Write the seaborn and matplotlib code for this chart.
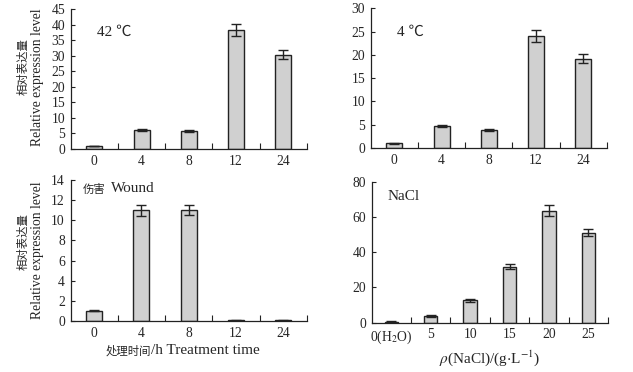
import matplotlib
matplotlib.use("Agg")
import matplotlib.pyplot as plt
import seaborn as sns
import pandas as pd
import numpy as np
from matplotlib.ticker import FixedLocator, MultipleLocator

# ---- data ----
time_cats = ["0", "4", "8", "12", "24"]
heat_vals = [1.0, 6.0, 5.8, 38.3, 30.4]
heat_err = [0.1, 0.3, 0.4, 1.9, 1.5]
cold_vals = [1.0, 4.8, 3.8, 24.0, 19.2]
cold_err = [0.1, 0.2, 0.2, 1.3, 1.0]
wound_vals = [1.0, 11.0, 11.0, 0.05, 0.05]
wound_err = [0.05, 0.55, 0.5, 0.02, 0.02]
nacl_cats = ["0(H$_2$O)", "5", "10", "15", "20", "25"]
nacl_vals = [0.5, 4.0, 12.8, 31.8, 63.5, 51.0]
nacl_err = [0.4, 0.6, 0.8, 1.5, 3.2, 2.0]

sns.set_theme(style="white")
plt.rcParams["font.family"] = ["Liberation Serif", "Noto Sans CJK SC"]
plt.rcParams["mathtext.fontset"] = "stix"
plt.rcParams["font.size"] = 10

W, H = 633, 372
TICK = 9.8
ENG = 11
ENGV = 9.8
CJK = 8.2
fig = plt.figure(figsize=(W / 100, H / 100), dpi=100)


def mkax(l, r, b, t):
    return fig.add_axes([l / W, 1 - b / H, (r - l) / W, (b - t) / H])


def ftext(x, y, s, **kw):
    fig.text(x / W, 1 - y / H, s, **kw)


panels = [
    (mkax(70.7, 307, 149, 9.3), time_cats, heat_vals, heat_err, 45, 5),
    (mkax(370.7, 607, 148, 8.3), time_cats, cold_vals, cold_err, 30, 5),
    (mkax(70.5, 307, 321, 180), time_cats, wound_vals, wound_err, 14, 2),
    (mkax(371.7, 608, 322.7, 181.7), nacl_cats, nacl_vals, nacl_err, 80, 20),
]

for ax, cats, vals, errs, ymax, step in panels:
    df = pd.DataFrame({"cat": cats, "val": vals})
    sns.barplot(data=df, x="cat", y="val", ax=ax, color="#d0d0d0",
                edgecolor="#222222", linewidth=1.0, width=0.34, saturation=1)
    ax.errorbar(np.arange(len(cats)), vals, yerr=errs, fmt="none",
                ecolor="#222222", elinewidth=1.0, capsize=3.5, capthick=1.0)
    n = len(cats)
    ax.set_xlim(-0.5, n - 0.5)
    ax.set_ylim(0, ymax)
    ax.yaxis.set_major_locator(MultipleLocator(step))
    ax.xaxis.set_minor_locator(FixedLocator(np.arange(n) + 0.5))
    ax.tick_params(axis="x", which="major", length=0, pad=4, labelsize=TICK)
    ax.tick_params(axis="x", which="minor", direction="in", length=4, width=0.8, color="#222222", bottom=True)
    ax.tick_params(axis="y", direction="in", length=3, width=0.8, color="#222222", left=True, labelsize=TICK, pad=4)
    for s in ["top", "right"]:
        ax.spines[s].set_visible(False)
    for s in ["left", "bottom"]:
        ax.spines[s].set_color("#222222")
        ax.spines[s].set_linewidth(0.9)
    ax.set_xlabel("")
    ax.set_ylabel("")

# panel annotations
ftext(97, 32, "42 \u2103", fontsize=ENG, ha="left", va="center")
ftext(397, 32, "4 \u2103", fontsize=ENG, ha="left", va="center")
ftext(83, 189, "伤害", fontsize=CJK, ha="left", va="center", family="Noto Sans CJK SC")
ftext(111, 189, "Wound", fontsize=ENG, ha="left", va="center")
ftext(388, 196, "NaCl", fontsize=ENG, ha="left", va="center")

# y labels (Chinese + English lines)
ftext(23, 67, "相对表达量", fontsize=CJK, rotation=90, ha="center", va="center", family="Noto Sans CJK SC")
ftext(37.5, 77, "Relative expression level", fontsize=ENGV, rotation=90, ha="center", va="center")
ftext(23, 242, "相对表达量", fontsize=CJK, rotation=90, ha="center", va="center", family="Noto Sans CJK SC")
ftext(37.5, 250, "Relative expression level", fontsize=ENGV, rotation=90, ha="center", va="center")

# x labels
ftext(151, 351, "处理时间", fontsize=CJK, ha="right", va="center", family="Noto Sans CJK SC")
ftext(151, 350, "/h Treatment time", fontsize=ENG, ha="left", va="center")
ftext(490, 358, r"$\rho$(NaCl)/(g$\cdot$L$^{-1}$)", fontsize=ENG, ha="center", va="center")

fig.savefig("out.png", dpi=100)
